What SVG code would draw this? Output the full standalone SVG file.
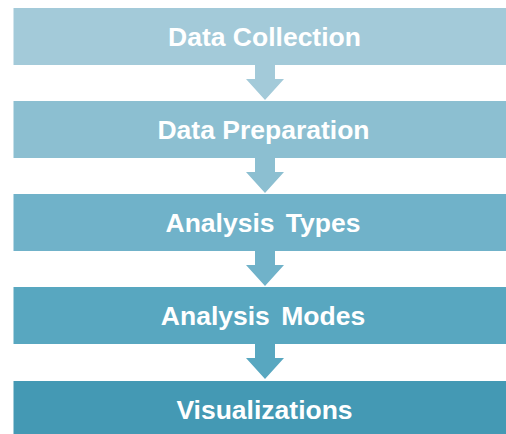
<svg xmlns="http://www.w3.org/2000/svg" width="506" height="434" viewBox="0 0 506 434">
<style>
.lbl{font-family:"Liberation Sans",Arial,sans-serif;font-weight:bold;font-size:26.5px;fill:#fff;text-anchor:middle}
</style>
<defs>
<path id="arr" d="M255,0 H275 V14 H284 L265,35 L246,14 H255 Z"/>
</defs>
<rect width="506" height="434" fill="#fff"/>
<g id="connectors">
<use href="#arr" y="65" fill="#A3CAD9"/>
<use href="#arr" y="158" fill="#8CBFD1"/>
<use href="#arr" y="251" fill="#70B2C9"/>
<use href="#arr" y="344" fill="#58A7C0"/>
</g>
<g id="n1"><rect x="13.5" y="8" width="510" height="57" fill="#A3CAD9"/><text class="lbl" x="264.5" y="45.5">Data Collection</text></g>
<g id="n2"><rect x="13.5" y="101" width="510" height="57" fill="#8CBFD1"/><text class="lbl" x="263.5" y="138.5">Data Preparation</text></g>
<g id="n3"><rect x="13.5" y="194" width="510" height="57" fill="#70B2C9"/><text class="lbl" x="263" y="231.5" word-spacing="4">Analysis Types</text></g>
<g id="n4"><rect x="13.5" y="287" width="510" height="57" fill="#58A7C0"/><text class="lbl" x="263" y="324.5" word-spacing="4">Analysis Modes</text></g>
<g id="n5"><rect x="13.5" y="381" width="510" height="57" fill="#4499B4"/><text class="lbl" x="264.5" y="418.5">Visualizations</text></g>
</svg>
